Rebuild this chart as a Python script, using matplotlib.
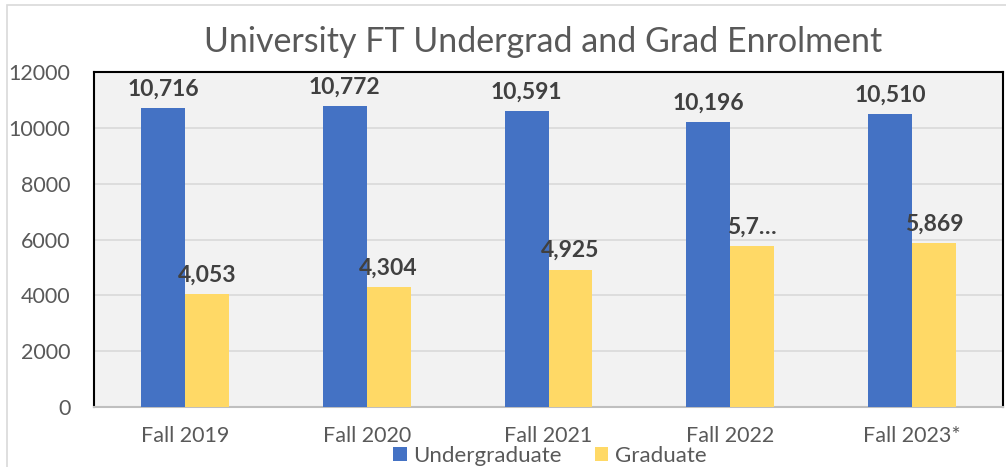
import matplotlib.pyplot as plt
import numpy as np
from matplotlib.patches import Rectangle

plt.rcParams['font.family'] = ['Lato', 'DejaVu Sans']

terms = ["Fall 2019", "Fall 2020", "Fall 2021", "Fall 2022", "Fall 2023*"]
undergrad = [10716, 10772, 10591, 10196, 10510]
grad = [4053, 4304, 4925, 5767, 5869]
grad_labels = ["4,053", "4,304", "4,925", "5,7\u2026", "5,869"]

blue = "#4472C4"
yellow = "#FFD966"
text_grey = "#595959"
label_grey = "#404040"

fig = plt.figure(figsize=(10.06, 4.67), dpi=100)
ax = fig.add_axes([94 / 1006, 1 - 407 / 467, 909 / 1006, 335 / 467])

# light chart-area border (only left/top visible in the reference)
fig.patches.append(Rectangle((7 / 1006, -0.1), 1.2, 1 - 5 / 467 + 0.1,
                             transform=fig.transFigure, fill=False,
                             edgecolor="#D9D9D9", linewidth=1.2))

x = np.arange(len(terms))
w = 0.242
ax.bar(x - w / 2, undergrad, w, color=blue, label="Undergraduate", zorder=3)
ax.bar(x + w / 2, grad, w, color=yellow, label="Graduate", zorder=3)

for i in range(len(terms)):
    ax.annotate(f"{undergrad[i]:,}", (x[i] - w / 2, undergrad[i]),
                xytext=(0, 6), textcoords="offset points", ha="center",
                va="bottom", fontsize=16.5, fontweight="bold", color=label_grey)
    ax.annotate(grad_labels[i], (x[i] + w / 2, grad[i]),
                xytext=(0, 6), textcoords="offset points", ha="center",
                va="bottom", fontsize=16.5, fontweight="bold", color=label_grey)

ax.set_facecolor("#F2F2F2")
ax.set_xlim(-0.5, len(terms) - 0.5)
ax.set_ylim(0, 12000)
ax.set_yticks(np.arange(0, 12001, 2000))
ax.yaxis.grid(True, color="#D9D9D9", linewidth=1.2, zorder=0)
ax.set_xticks(x)
ax.set_xticklabels(terms)
ax.tick_params(axis="both", length=0, labelsize=15.5, colors=text_grey)
ax.tick_params(axis="y", pad=17)
ax.tick_params(axis="x", pad=14)

for s in ["left", "top", "right"]:
    ax.spines[s].set_color("black")
    ax.spines[s].set_linewidth(1.5)
ax.spines["bottom"].set_color("#BFBFBF")
ax.spines["bottom"].set_linewidth(1.5)

fig.text(543 / 1006, 1 - 42 / 467, "University FT Undergrad and Grad Enrolment",
         ha="center", va="center", fontsize=24.5, color=text_grey)

fig.legend(loc="center", bbox_to_anchor=(550 / 1006, 1 - 456 / 467), ncol=2,
           frameon=False, fontsize=16, labelcolor=text_grey, handlelength=0.6,
           handleheight=0.6, handletextpad=0.3, columnspacing=1.5,
           borderpad=0)

fig.savefig("out.png", dpi=100)
